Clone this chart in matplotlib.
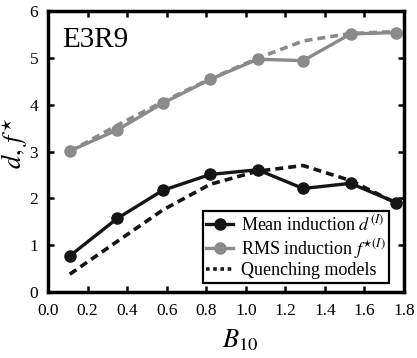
import numpy as np
import matplotlib
matplotlib.use('Agg')
import matplotlib.pyplot as plt
from matplotlib.lines import Line2D
from matplotlib.legend_handler import HandlerLine2D

plt.rcParams['font.family'] = ['Liberation Serif', 'DejaVu Serif']
plt.rcParams['mathtext.fontset'] = 'stix'

# data
b10 = [0.11, 0.35, 0.58, 0.82, 1.06, 1.29, 1.53, 1.76]
mean_ind = [0.77, 1.57, 2.17, 2.51, 2.61, 2.21, 2.32, 1.91]
rms_ind = [3.01, 3.46, 4.03, 4.54, 4.97, 4.94, 5.51, 5.54]
quench_d = [0.38, 1.08, 1.75, 2.30, 2.58, 2.70, 2.38, 1.90]
quench_f = [3.00, 3.56, 4.06, 4.55, 4.99, 5.36, 5.52, 5.56]

blk = '#151515'
gry = '#8a8a8a'


class LeftMarker(HandlerLine2D):
    # marker at the left end of the legend line, like the original
    def get_xdata(self, legend, xdescent, ydescent, width, height, fontsize):
        xdata, _ = super().get_xdata(legend, xdescent, ydescent, width, height, fontsize)
        return xdata, [xdata[0] + 2]


fig = plt.figure(figsize=(4.17, 3.58), dpi=100)
ax = fig.add_axes([48/417, 1-292/358, 356/417, 281/358])

ax.plot(b10, quench_f, ls=(0, (2.2, 1.4)), color=gry, lw=2.6)
ax.plot(b10, rms_ind, '-o', color=gry, lw=2.4, ms=8)
ax.plot(b10, quench_d, ls=(0, (2.2, 1.4)), color=blk, lw=2.6)
ax.plot(b10, mean_ind, '-o', color=blk, lw=2.4, ms=8)

h1 = Line2D([], [], color=blk, marker='o', lw=2.4, ms=8)
h2 = Line2D([], [], color=gry, marker='o', lw=2.4, ms=8)
h3 = Line2D([], [], color=blk, ls=(0, (1.0, 1.0)), lw=2.6)
leg = ax.legend([h1, h2, h3],
                [r'Mean induction $d^{(I)}$', r'RMS induction $f^{\star(I)}$', 'Quenching models'],
                handler_map={h1: LeftMarker(), h2: LeftMarker()},
                loc='lower right', bbox_to_anchor=(0.958, 0.032), borderaxespad=0,
                fontsize=13, handlelength=1.5, handletextpad=0.4,
                labelspacing=0.1, borderpad=0.2,
                fancybox=False, framealpha=1, edgecolor='black')
leg.get_frame().set_linewidth(1.6)

ax.text(0.04, 0.943, 'E3R9', transform=ax.transAxes, fontsize=21, va='top', ha='left')

ax.set_xlim(0, 1.8)
ax.set_ylim(0, 6)
xt = np.arange(0, 1.81, 0.2)
ax.set_xticks(xt)
ax.set_xticklabels(['%.1f' % v for v in xt])
ax.set_yticks(range(7))
ax.tick_params(direction='in', top=True, right=True, width=1.8, length=4, labelsize=12.5)
ax.tick_params(axis='x', pad=8)
ax.tick_params(axis='y', pad=7)
for s in ax.spines.values():
    s.set_linewidth(2.5)

ax.set_xlabel(r'$B_{\mathrm{10}}$', fontsize=19)
ax.xaxis.set_label_coords(0.54, -0.125)
ax.set_ylabel(r'$d,\,f^{\star}$', fontsize=19)
ax.yaxis.set_label_coords(-0.05, 0.53)

fig.savefig('out.png', dpi=100)
